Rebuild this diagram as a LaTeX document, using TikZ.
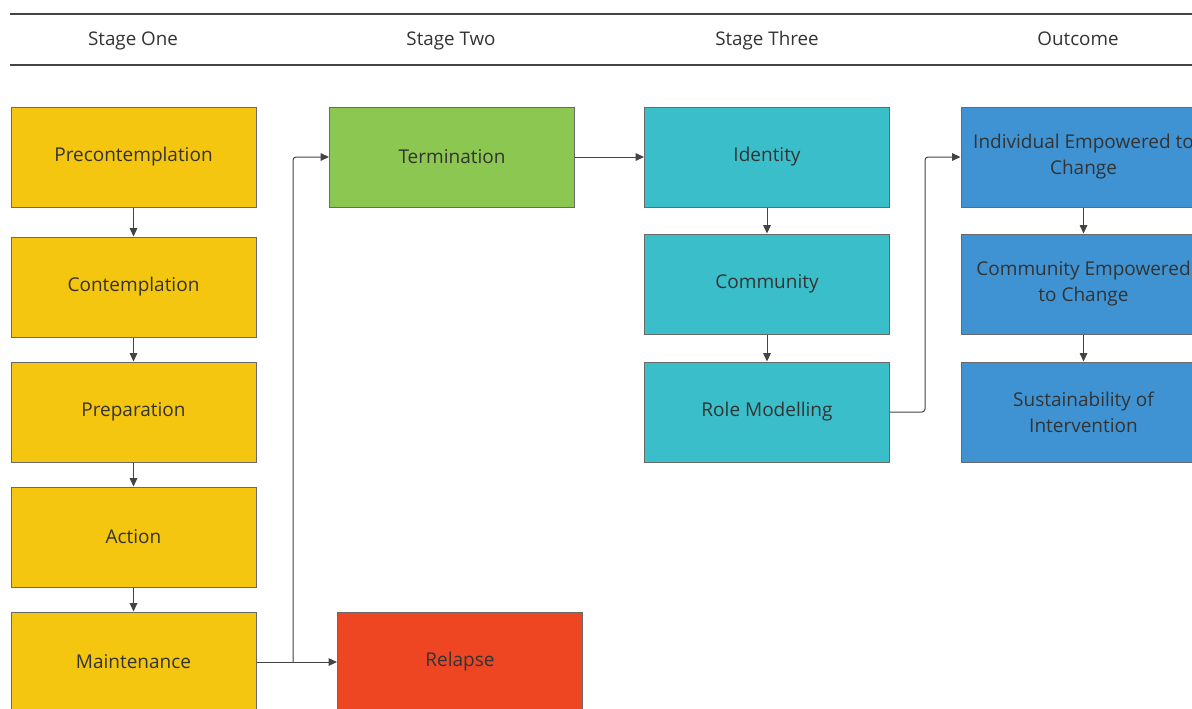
\documentclass[tikz,border=0pt]{standalone}
\usepackage{fontspec}
\setmainfont{Open Sans}
\usetikzlibrary{arrows.meta,positioning}
\definecolor{stageyellow}{HTML}{F5C60F}
\definecolor{stagegreen}{HTML}{8CC751}
\definecolor{stagecyan}{HTML}{3ABFCA}
\definecolor{stageblue}{HTML}{3F93D3}
\definecolor{stagered}{HTML}{EE4623}
\definecolor{linegray}{HTML}{444444}
\definecolor{textgray}{HTML}{333333}
\begin{document}
\begin{tikzpicture}[
        x=0.5pt, y=-0.5pt,
        box/.style={rectangle, draw=linegray!80, line width=0.5pt, minimum width=122.5pt, minimum height=50pt,
            align=center, text=textgray, font=\fontsize{9.5}{13}\selectfont},
        head/.style={anchor=base, text=textgray, font=\fontsize{9.4}{12}\selectfont},
        flow/.style={draw=linegray, line width=0.5pt, -{Triangle[length=4.2pt,width=3.8pt]}, rounded corners=1.5pt}
    ]
        \useasboundingbox (0,0) rectangle (1192,708);
        \clip (0,0) rectangle (1192,708);

        % Kopfzeile
        \draw[linegray, line width=1.1pt] (10,14) -- (1200,14);
        \draw[linegray, line width=1.1pt] (10,65) -- (1200,65);
        \node[head] (h1) at (133,45) {Stage One};
        \node[head] (h2) at (451,45) {Stage Two};
        \node[head] (h3) at (767,45) {Stage Three};
        \node[head] (h4) at (1078,45) {Outcome};

        % Stage One
        \node[box, fill=stageyellow] (pre) at (133.5,157) {Precontemplation};
        \node[box, fill=stageyellow] (con) at (133.5,287) {Contemplation};
        \node[box, fill=stageyellow] (prep) at (133.5,412) {Preparation};
        \node[box, fill=stageyellow] (act) at (133.5,537) {Action};
        \node[box, fill=stageyellow] (main) at (133.5,662) {Maintenance};

        % Stage Two
        \node[box, fill=stagegreen] (term) at (452,157) {Termination};
        \node[box, fill=stagered] (rel) at (460,662) {Relapse};

        % Stage Three
        \node[box, fill=stagecyan] (ident) at (767,157) {Identity};
        \node[box, fill=stagecyan] (comm) at (767,284) {Community};
        \node[box, fill=stagecyan] (role) at (767,412) {Role Modelling};

        % Outcome
        \node[box, fill=stageblue] (indiv) at (1083.5,157) {Individual Empowered to\\Change};
        \node[box, fill=stageblue] (commemp) at (1083.5,284) {Community Empowered\\to Change};
        \node[box, fill=stageblue] (sust) at (1083.5,412) {Sustainability of\\Intervention};

        % Verbindungen
        \draw[flow] (pre) -- (con);
        \draw[flow] (con) -- (prep);
        \draw[flow] (prep) -- (act);
        \draw[flow] (act) -- (main);
        \coordinate (split) at (293,662);
        \draw[flow] (main) -- (rel);
        \draw[flow] (split) |- (term);
        \draw[flow] (term) -- (ident);
        \draw[flow] (ident) -- (comm);
        \draw[flow] (comm) -- (role);
        \coordinate (turn) at (925,412);
        \draw[flow] (role) -- (turn) |- (indiv);
        \draw[flow] (indiv) -- (commemp);
        \draw[flow] (commemp) -- (sust);
    \end{tikzpicture}
\end{document}
